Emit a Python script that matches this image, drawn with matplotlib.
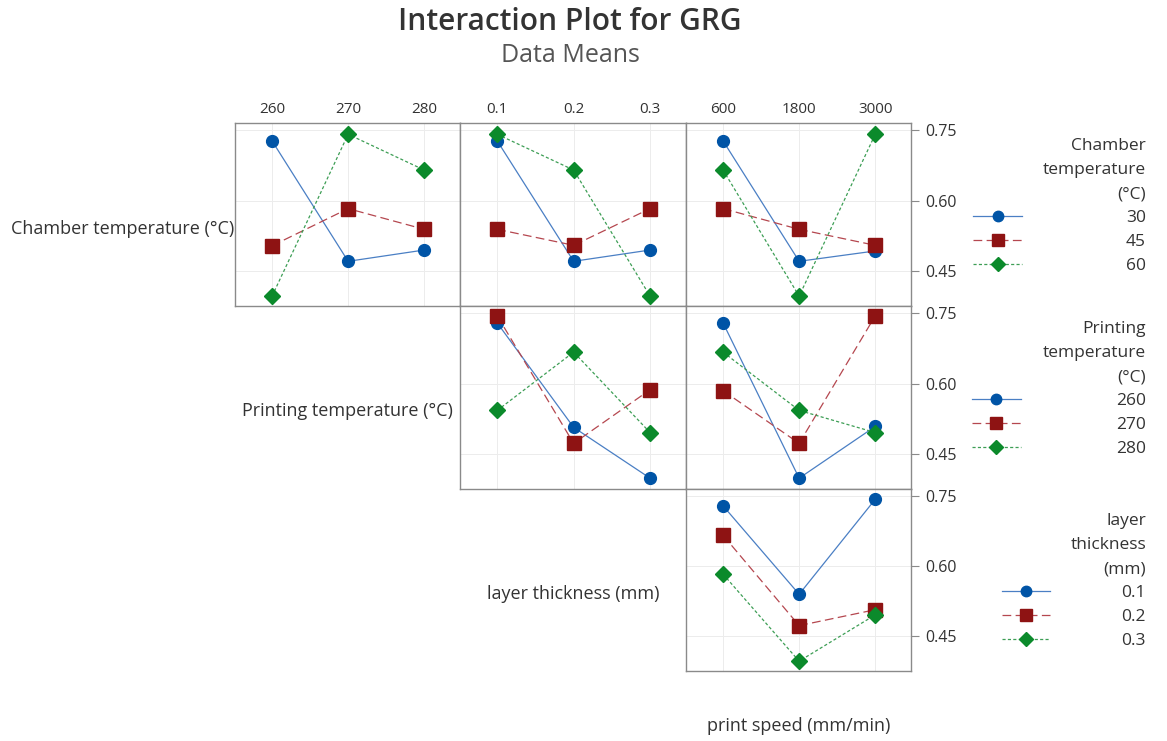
import numpy as np
import matplotlib.pyplot as plt
from matplotlib.lines import Line2D

plt.rcParams['font.family'] = ['Open Sans', 'DejaVu Sans']

# factor levels
chamber_levels = ['30', '45', '60']
printing_levels = ['260', '270', '280']
layer_levels = ['0.1', '0.2', '0.3']
speed_levels = ['600', '1800', '3000']

# GRG data means: rows = level of the row factor, cols = level of the column factor
ct_by_pt = [[0.727, 0.471, 0.495], [0.504, 0.583, 0.539], [0.397, 0.741, 0.665]]
ct_by_lt = [[0.727, 0.471, 0.495], [0.539, 0.505, 0.583], [0.741, 0.665, 0.397]]
ct_by_ps = [[0.727, 0.471, 0.493], [0.583, 0.539, 0.505], [0.665, 0.397, 0.741]]
pt_by_lt = [[0.729, 0.507, 0.399], [0.744, 0.473, 0.587], [0.543, 0.667, 0.496]]
pt_by_ps = [[0.729, 0.399, 0.509], [0.585, 0.473, 0.744], [0.667, 0.543, 0.496]]
lt_by_ps = [[0.729, 0.540, 0.743], [0.666, 0.473, 0.507], [0.583, 0.397, 0.496]]

row_names = ['Chamber temperature (°C)', 'Printing temperature (°C)', 'layer thickness (mm)']
row_levels = [chamber_levels, printing_levels, layer_levels]
col_levels = [printing_levels, layer_levels, speed_levels]
legend_titles = ['Chamber\ntemperature\n(°C)', 'Printing\ntemperature\n(°C)', 'layer\nthickness\n(mm)']
panels = {(0, 0): ct_by_pt, (0, 1): ct_by_lt, (0, 2): ct_by_ps,
          (1, 1): pt_by_lt, (1, 2): pt_by_ps,
          (2, 2): lt_by_ps}

colors = ['#0054a6', '#8e1313', '#0b8a2b']
line_colors = ['#4a7fc4', '#b5474f', '#3d9e55']
markers = ['o', 's', 'D']
msizes = [8.5, 9.5, 8]
dashes = [None, (7, 3.5), (2.5, 1.8)]
text_col = '#333333'

W, H = 1167, 741
col_edges = [10, 235, 460, 686, 911]
row_edges = [123, 306, 489, 671]


def rect(l, t, r, b):
    return [l / W, 1 - b / H, (r - l) / W, (b - t) / H]


fig = plt.figure(figsize=(W / 100, H / 100), dpi=100)

fig.text(570 / W, 1 - 22 / H, 'Interaction Plot for GRG', ha='center', va='center',
         fontsize=21.5, fontweight='semibold', color=text_col)
fig.text(570 / W, 1 - 55 / H, 'Data Means', ha='center', va='center',
         fontsize=18, color='#555555')

legend_handles = {}
for (r, c), vals in panels.items():
    ax = fig.add_axes(rect(col_edges[c + 1], row_edges[r], col_edges[c + 2], row_edges[r + 1]))
    x = np.arange(3)
    hs = []
    for k in range(3):
        ax.plot(x, vals[k], color=line_colors[k], lw=0.9, zorder=2,
                dashes=dashes[k] if dashes[k] else (None, None),
                linestyle='-' if dashes[k] is None else '--')
        ax.plot(x, vals[k], linestyle='none', marker=markers[k], ms=msizes[k],
                color=colors[k], mec=colors[k], zorder=3)
        hs.append(Line2D([], [], color=line_colors[k], lw=0.9,
                         linestyle='-' if dashes[k] is None else (0, dashes[k]),
                         marker=markers[k], ms=msizes[k] - 1, mfc=colors[k], mec=colors[k]))
    legend_handles[r] = hs
    ax.set_xlim(-0.487, 2.47)
    ax.set_ylim(0.376, 0.765)
    ax.set_xticks(x)
    ax.set_yticks([0.45, 0.60, 0.75])
    ax.grid(True, color='#ececec', lw=0.7, zorder=0)
    ax.set_axisbelow(True)
    for s in ax.spines.values():
        s.set_color('#8a8a8a')
        s.set_linewidth(1.0)
    ax.tick_params(axis='x', bottom=False, top=False, labelbottom=False,
                   labeltop=(r == 0), labelsize=11, pad=1, labelcolor=text_col)
    if r == 0:
        ax.set_xticklabels(col_levels[c])
    if c == 2:
        ax.yaxis.tick_right()
        ax.tick_params(axis='y', left=False, right=True, labelright=True, labelleft=False,
                       labelsize=11.5, length=6, color='#8a8a8a', pad=4, labelcolor=text_col)
        ax.set_yticklabels(['0.45', '0.60', '0.75'])
    else:
        ax.tick_params(axis='y', left=False, right=False, labelleft=False, labelright=False)

# factor names on the diagonal
for r in range(3):
    cx = (col_edges[r] + col_edges[r + 1]) / 2 / W
    cy = 1 - ((row_edges[r] + row_edges[r + 1]) / 2 + 14) / H
    fig.text(cx, cy, row_names[r], ha='center', va='center', fontsize=13, color=text_col)
fig.text(799 / W, 1 - 726 / H, 'print speed (mm/min)', ha='center', va='center',
         fontsize=13, color=text_col)

# legends
leg_tops = [138, 321, 513]
leg_pads = [6.0, 5.5, 4.1]
for r in range(3):
    leg = fig.legend(legend_handles[r], row_levels[r], title=legend_titles[r],
                     loc='upper right', bbox_to_anchor=(1146 / W, 1 - leg_tops[r] / H),
                     frameon=False, alignment='right', fontsize=12.5, title_fontsize=12.5,
                     handlelength=2.8, handletextpad=leg_pads[r], labelspacing=0.45,
                     borderpad=0, borderaxespad=0)
    leg.get_title().set_linespacing(1.68)
    leg.get_title().set_color(text_col)
    leg.get_title().set_ha('right')
    for t in leg.get_texts():
        t.set_color(text_col)

fig.savefig('out.png', dpi=100)
